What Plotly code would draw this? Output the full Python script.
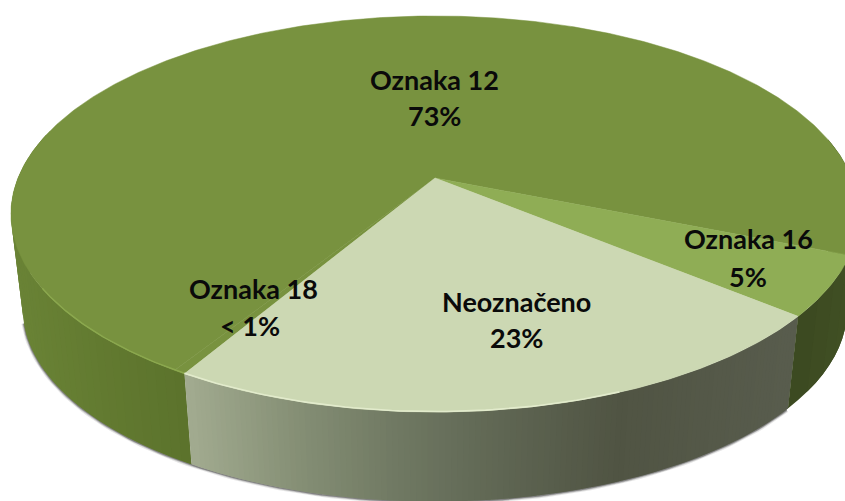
import numpy as np
import plotly.graph_objects as go

# --- data ---
categories = ["Oznaka 12", "Oznaka 16", "Neoznačeno", "Oznaka 18"]
values = [72.5, 4.9, 22.5, 0.4]
percent_labels = ["73%", "5%", "23%", "< 1%"]
top_colors = ["#78923f", "#8fad55", "#ccd8b3", "#78923f"]

# --- scene geometry (pixel-valued axes) ---
W, H = 845, 501
CX, CY = 435.0, 178.0      # projected pie centre
RX, RY = 417.0, 191.5
PERSP = -0.1818
START_ANGLE = 22.1         # screen angle where Oznaka 16 begins (clockwise from +x)
WALL_CY, WALL_SCALE = 274.0, 0.972

name_pos = [(434, 79), (748, 238), (516, 301), (253, 288)]
pct_pos = [(434, 115), (748, 276), (516, 337), (250, 325)]


def rim(theta_deg):
    t = np.radians(np.asarray(theta_deg, dtype=float))
    u, v = np.cos(t), np.sin(t)
    d = 1 + PERSP * v
    return RX * u / d, RY * v / d


def top_rim(theta_deg):
    dx, dy = rim(theta_deg)
    return CX + dx, CY + dy


def bottom_rim(theta_deg):
    dx, dy = rim(theta_deg)
    return CX + WALL_SCALE * dx, WALL_CY + WALL_SCALE * dy


def hex_rgb(c):
    return np.array([int(c[i:i + 2], 16) for i in (1, 3, 5)], dtype=float)


def ramp(stops, x):
    xs = [s[0] for s in stops]
    cols = np.array([hex_rgb(s[1]) for s in stops])
    r = [np.interp(x, xs, cols[:, i]) for i in range(3)]
    return "rgb(%d,%d,%d)" % tuple(int(round(c)) for c in r)


# slice angles from the values
total = sum(values)
sweeps = [v / total * 360 for v in values]
a16_start = START_ANGLE
a16_end = a16_start + sweeps[1]
neo_end = a16_end + sweeps[2]
a18_end = neo_end + sweeps[3]
a12_end = a18_end + sweeps[0]
slices = {
    0: (a18_end, a12_end),
    1: (a16_start, a16_end),
    2: (a16_end, neo_end),
    3: (neo_end, a18_end),
}

fig = go.Figure()

# soft shadow under the lower rim
th = np.linspace(neo_end + 45, 40, 120)
sx, sy = bottom_rim(th)
for w, a in ((5, 0.10), (3, 0.18), (1.5, 0.30)):
    fig.add_trace(go.Scatter(x=sx, y=sy + 0.5, mode="lines", hoverinfo="skip",
                             line=dict(color=f"rgba(0,0,0,{a})", width=w)))

# side walls: overlapping strips painted in order, so they can carry a gradient
wall_12_stops = [(11, "#6a8336"), (100, "#627a30"), (190, "#5b722c")]
wall_neo_stops = [(190, "#a1aa8f"), (300, "#848e74"), (400, "#6f7862"),
                  (500, "#5f6653"), (620, "#505443"), (790, "#585c4d")]
wall_16_stops = [(785, "#3a4720"), (850, "#404f23")]
walls = [
    (195, neo_end, wall_12_stops, 50),
    (neo_end, a16_end, wall_neo_stops, 120),
    (a16_end, -12, wall_16_stops, 10),
]
for a0, a1, stops, n in walls:
    edges = np.linspace(a0, a1, n + 1)
    step = edges[1] - edges[0]
    for e0, e1 in zip(edges[:-1], edges[1:]):
        # each strip reaches a little past its end; the next one paints over it
        end = e1 + step if e1 != edges[-1] else e1
        seg = np.linspace(e0, end, 5)
        tx, ty = top_rim(seg)
        bx, by = bottom_rim(seg[::-1])
        mid_x, _ = top_rim(0.5 * (e0 + e1))
        col = ramp(stops, float(mid_x))
        fig.add_trace(go.Scatter(
            x=np.r_[tx, bx, tx[0]], y=np.r_[ty, by, ty[0]], mode="lines",
            fill="toself", fillcolor=col, line=dict(color=col, width=0),
            hoverinfo="skip"))

# top face
for i in (0, 3, 1, 2):
    a0, a1 = slices[i]
    th = np.linspace(a0, a1, max(3, int(abs(a1 - a0) * 2)))
    rx, ry = top_rim(th)
    fig.add_trace(go.Scatter(
        x=np.r_[CX, rx, CX], y=np.r_[CY, ry, CY], mode="lines", fill="toself",
        fillcolor=top_colors[i], line=dict(color=top_colors[i], width=0.5),
        name=categories[i], hoverinfo="name"))

# bevel highlight along the front rim
for a0, a1, col, w in ((neo_end, neo_end + 28, "#8ba84e", 1.4),
                       (neo_end - 52, neo_end, "#e2ebcc", 1.6)):
    hx, hy = top_rim(np.linspace(a0, a1, 60))
    fig.add_trace(go.Scatter(x=hx, y=hy - 0.5, mode="lines", hoverinfo="skip",
                             line=dict(color=col, width=w)))

# labels
font = dict(family="Lato", size=27, color="#0a0a0a")
for name, pct, (nx, ny), (px, py) in zip(categories, percent_labels, name_pos, pct_pos):
    fig.add_annotation(x=nx, y=ny, text=f"<b>{name}</b>", showarrow=False, font=font)
    fig.add_annotation(x=px, y=py, text=f"<b>{pct}</b>", showarrow=False, font=font)

fig.update_layout(
    width=W, height=H, margin=dict(l=0, r=0, t=0, b=0),
    paper_bgcolor="white", plot_bgcolor="white", showlegend=False,
    xaxis=dict(range=[0, W], visible=False, fixedrange=True),
    yaxis=dict(range=[H, 0], visible=False, fixedrange=True),
)
fig.write_html("out.html", config={"displayModeBar": False},
               post_script="document.body.style.margin='0';document.body.style.overflow='hidden';")
